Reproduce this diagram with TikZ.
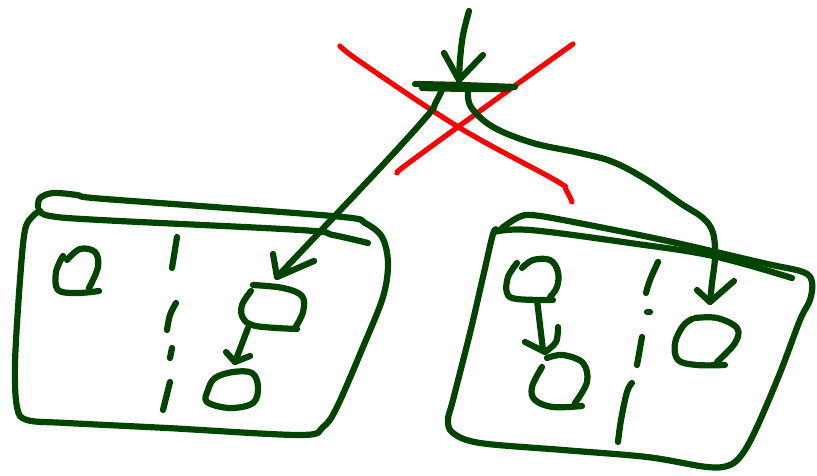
\documentclass[tikz,border=0pt]{standalone}
\begin{document}
\definecolor{ink}{RGB}{0,68,0}
\definecolor{redink}{RGB}{255,0,0}
\tikzset{
  pen/.style={draw=ink, line width=6.2, line cap=round, line join=round},
  redpen/.style={draw=redink, line width=5.2, line cap=round, line join=round},
  sm/.style={smooth, tension=0.6}
}
\begin{tikzpicture}[x=1pt,y=-1pt]
\useasboundingbox (0,0) rectangle (817,476);
% ---- red cross
\draw[redpen] plot[sm] coordinates {(340,46) (362,63) (460,128) (555,180) (566,190) (572,202)};
\draw[redpen] plot[sm] coordinates {(573,44) (520,82) (440,140) (402,168) (397,173)};
% ---- top incoming arrow
\draw[pen] plot[sm] coordinates {(469,11) (463,35) (460,60) (459,81)};
\draw[pen] (444,53) -- (459,80) -- (483,55);
% bar
\draw[pen] plot[sm] coordinates {(415,84) (460,85) (515,87)};
\draw[pen] plot[sm] coordinates {(422,88) (470,89) (508,89)};
% left branch
\draw[pen] plot[sm] coordinates {(442,90) (435,104) (428,115) (380,168) (277,277)};
\draw[pen] (273,254) -- (277,277) -- (314,261);
% right branch
\draw[pen] plot[sm] coordinates {(468,90) (471,107) (493,127) (533,143) (580,153) (613,162) (647,180) (680,203) (703,218) (713,233) (715,257) (712,283) (710,302)};
\draw[pen] (697,290) -- (710,302) -- (734,281);
% ---- left box
\draw[pen] plot[smooth, tension=0.55] coordinates {(38,207) (40,198) (53,193) (77,195) (93,198) (200,206) (343,217) (365,223) (382,237) (388,263) (383,297) (363,347) (337,407) (323,427) (300,435) (167,428) (67,423) (27,420) (17,407) (15,363) (20,280) (25,230) (33,216) (40,211)};
\draw[pen] plot[sm] coordinates {(40,211) (50,216) (100,220) (300,230) (333,235) (368,243)};
% left box: small box 1
\draw[pen] plot[sm] coordinates {(63,256) (56,272) (58,290) (77,293) (99,291)};
\draw[pen] plot[sm] coordinates {(67,260) (80,249) (95,252) (98,267) (89,288)};
% dashed divider
\draw[pen] (177,237) -- (172,268);
\draw[pen] plot[sm] coordinates {(176,303) (170,315) (167,330)};
\draw[pen] (172,348) -- (170,358);
\draw[pen] (170,382) -- (163,410);
% box 2
\draw[pen] plot[sm] coordinates {(253,285) (283,288) (302,296) (303,312) (295,328)};
\draw[pen] plot[sm] coordinates {(297,329) (256,326) (243,318) (242,305) (251,291)};
% arrow 2 -> 3
\draw[pen] (248,328) -- (235,362);
\draw[pen] (226,352) -- (235,362) -- (250,356);
% box 3
\draw[pen] plot[smooth cycle, tension=0.6] coordinates {(215,378) (233,372) (252,373) (258,387) (253,403) (230,408) (207,402) (208,390)};
% ---- right box
\draw[pen] plot[smooth, tension=0.55] coordinates {(502,228) (517,218) (530,215) (563,220) (663,240) (763,263) (803,272) (812,282) (810,300) (800,320) (780,373) (757,427) (743,453) (730,465) (707,467) (647,457) (563,450) (480,443) (453,433) (448,420) (453,400) (470,333) (483,277) (493,234) (497,230)};
\draw[pen] plot[sm] coordinates {(494,232) (530,230) (630,243) (713,256) (792,278)};
% box A
\draw[pen] plot[sm] coordinates {(517,263) (508,277) (507,293) (517,299) (553,300)};
\draw[pen] plot[sm] coordinates {(522,268) (533,260) (550,260) (558,272) (557,287) (550,297)};
% arrow A -> B
\draw[pen] (537,300) -- (543,350);
\draw[pen] (525,342) -- (545,352);
\draw[pen] plot[sm] coordinates {(558,327) (556,342) (545,352)};
% box B
\draw[pen] plot[sm] coordinates {(547,358) (563,355) (583,363) (587,382) (575,403)};
\draw[pen] plot[sm] coordinates {(542,367) (532,387) (535,400) (553,407) (582,406)};
% dashed divider right
\draw[pen] plot[sm] coordinates {(658,262) (650,280) (646,293)};
\draw[pen] (647,312) -- (650,312);
\draw[pen] (642,337) -- (637,365);
\draw[pen] plot[sm] coordinates {(632,383) (627,392) (621,420) (618,442)};
% box C
\draw[pen] plot[sm] coordinates {(695,318) (717,318) (737,328) (735,343) (717,362)};
\draw[pen] plot[sm] coordinates {(692,319) (683,326) (675,343) (678,360) (697,365) (725,365)};
\end{tikzpicture}
\end{document}
